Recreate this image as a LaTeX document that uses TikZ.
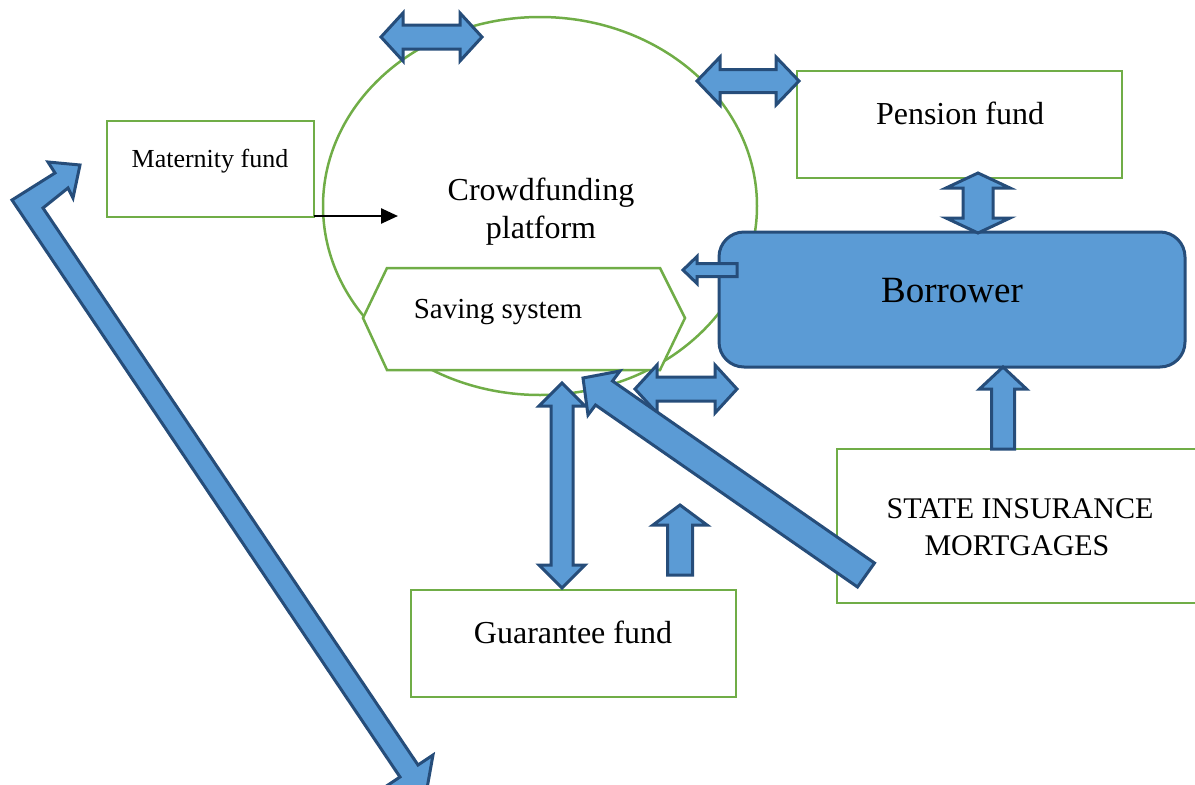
\documentclass[tikz,border=0pt]{standalone}
\usepackage{fontspec}
\setmainfont{Liberation Serif}
\usetikzlibrary{arrows.meta}
\definecolor{grn}{HTML}{70AD47}
\definecolor{bfill}{HTML}{5B9BD5}
\definecolor{bline}{HTML}{264D7A}
\tikzset{
  gline/.style={draw=grn, line width=2.5pt},
  gbox/.style={gline, fill=white, rectangle, inner sep=0pt},
  blk/.style={fill=bfill, draw=bline, line width=3pt, line join=miter},
  lbl/.style={anchor=base, inner sep=0pt, text=black},
}
% horizontal double arrow: x1, x2, yc, shaft half, head half, head length
\newcommand{\hdarrow}[6]{%
  \draw[blk] (#1,#3) -- ({#1+#6},{#3-#5}) -- ({#1+#6},{#3-#4}) -- ({#2-#6},{#3-#4})
   -- ({#2-#6},{#3-#5}) -- (#2,#3) -- ({#2-#6},{#3+#5}) -- ({#2-#6},{#3+#4})
   -- ({#1+#6},{#3+#4}) -- ({#1+#6},{#3+#5}) -- cycle;}
% vertical double arrow: y1, y2, xc, shaft half, head half, head length
\newcommand{\vdarrow}[6]{%
  \draw[blk] (#3,#1) -- ({#3+#5},{#1+#6}) -- ({#3+#4},{#1+#6}) -- ({#3+#4},{#2-#6})
   -- ({#3+#5},{#2-#6}) -- (#3,#2) -- ({#3-#5},{#2-#6}) -- ({#3-#4},{#2-#6})
   -- ({#3-#4},{#1+#6}) -- ({#3-#5},{#1+#6}) -- cycle;}
\begin{document}
\begin{tikzpicture}[x=1pt,y=-1pt]
\useasboundingbox (0,0) rectangle (1195,785);
\clip (0,0) rectangle (1195,785);

% Crowdfunding platform ellipse
\draw[gline] (540,206) ellipse [x radius=217, y radius=189];
\node[lbl] (crowd1) at (541,200) {\fontsize{32}{38}\selectfont Crowdfunding};
\node[lbl] (crowd2) at (541,238) {\fontsize{32}{38}\selectfont platform};

% Saving system hexagon
\draw[gline, fill=white] (363,318) -- (387,268) -- (660,268) -- (685,318) -- (660,370) -- (387,370) -- cycle;
\node[lbl] (saving) at (498,318) {\fontsize{29}{34}\selectfont Saving system};

% Maternity fund
\node[gbox, minimum width=207pt, minimum height=96pt] (matbox) at (210.5,169) {};
\node[lbl] (mat) at (210,167) {\fontsize{26}{31}\selectfont Maternity fund};
\coordinate (matout) at (314,216);
\coordinate (matin) at (398,216);
\draw[line width=2.5pt, -{Triangle[length=17pt,width=15pt]}] (matout) -- (matin);

% Pension fund
\node[gbox, minimum width=325pt, minimum height=107pt] (penbox) at (959.5,124.5) {};
\node[lbl] (pen) at (960,124) {\fontsize{32}{38}\selectfont Pension fund};

% Borrower
\node[blk, rounded corners=25pt, rectangle, minimum width=466pt, minimum height=135pt] (borbox) at (952,299.5) {};
\node[lbl] (bor) at (952,302) {\fontsize{37}{44}\selectfont Borrower};

% State insurance mortgages
\node[gbox, minimum width=370pt, minimum height=154pt] (statebox) at (1022,526) {};
\node[lbl] (state1) at (1020,518) {\fontsize{30}{37}\selectfont STATE INSURANCE};
\node[lbl] (state2) at (1017,555) {\fontsize{30}{37}\selectfont MORTGAGES};

% Guarantee fund
\node[gbox, minimum width=325pt, minimum height=107pt] (guarbox) at (573.5,643.5) {};
\node[lbl] (guar) at (573,643) {\fontsize{32}{38}\selectfont Guarantee fund};

% double block arrows
\hdarrow{381}{482}{37}{12}{24}{22}
\hdarrow{697}{799}{81}{11.5}{24}{23}
\hdarrow{635}{737}{389}{12}{24}{22}
\vdarrow{173}{233}{978}{15}{32}{15}
\vdarrow{383}{588}{562}{11}{23}{23}

% small left arrow
\draw[blk] (683,270) -- (697,256.5) -- (697,263.5) -- (737,263.5) -- (737,276.5) -- (697,276.5) -- (697,283.5) -- cycle;
% small up arrow
\draw[blk] (680,505) -- (707,525) -- (692.5,525) -- (692.5,575) -- (667.5,575) -- (667.5,525) -- (653,525) -- cycle;
% up arrow into borrower
\draw[blk] (1003,367) -- (1026.5,389) -- (1014.5,389) -- (1014.5,449) -- (991.5,449) -- (991.5,389) -- (979.5,389) -- cycle;

% diagonal arrow from state box to saving system
\draw[blk] (583,378) -- (620,371) -- (612.5,381) -- (874.5,563) -- (857.5,587) -- (595.5,405) -- (588,415) -- cycle;

% bent arrow on the left
\draw[blk] (12,200) -- (55,173) -- (48,162) -- (80,165) -- (73,198) -- (68,188) -- (43,208)
  -- (418,765) -- (433,755) -- (426,794) -- (385,787) -- (400,777) -- cycle;
\end{tikzpicture}
\end{document}
